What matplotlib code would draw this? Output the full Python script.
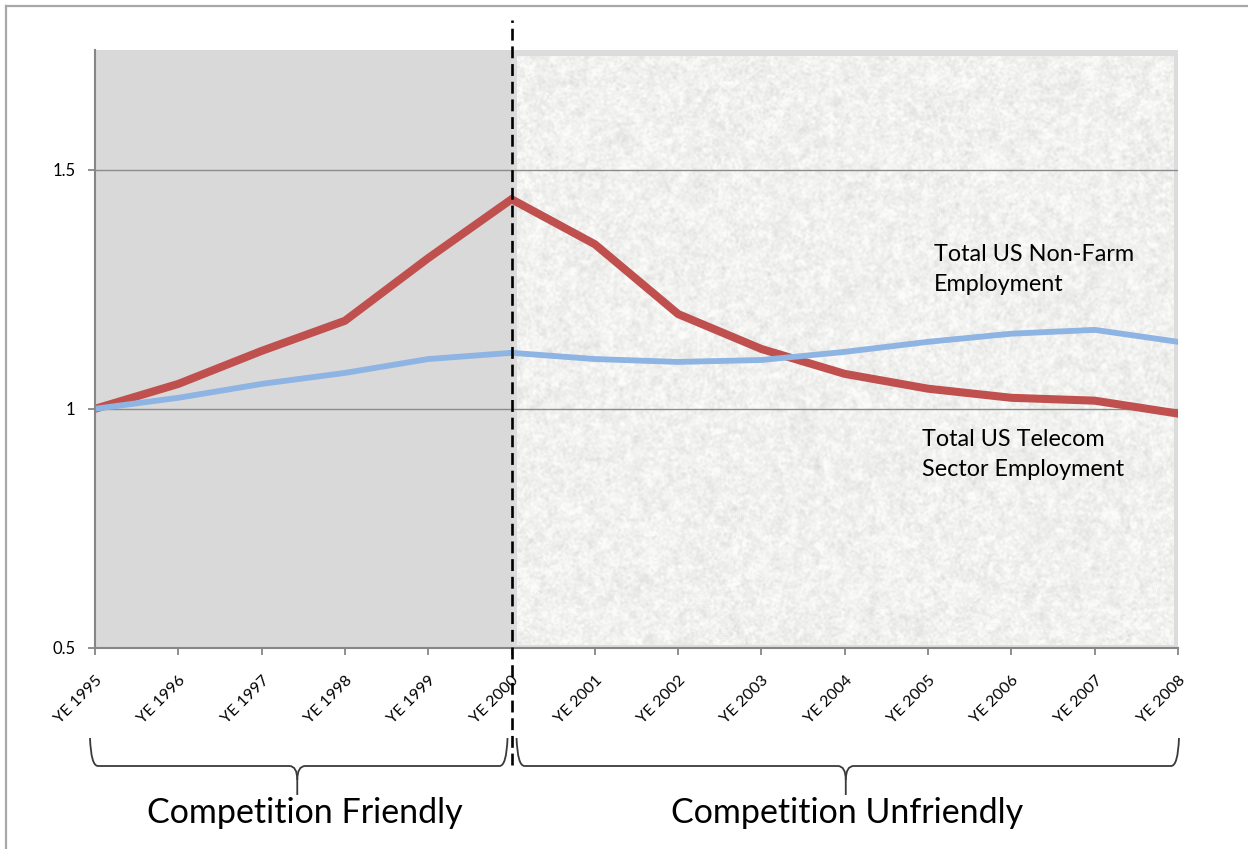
import numpy as np
import matplotlib
matplotlib.use("Agg")
import matplotlib.pyplot as plt
from matplotlib.path import Path
from matplotlib.patches import PathPatch
from matplotlib.lines import Line2D

plt.rcParams['font.family'] = ['Lato', 'DejaVu Sans']

years = ["YE 1995", "YE 1996", "YE 1997", "YE 1998", "YE 1999", "YE 2000", "YE 2001",
         "YE 2002", "YE 2003", "YE 2004", "YE 2005", "YE 2006", "YE 2007", "YE 2008"]
telecom = [1.000, 1.052, 1.121, 1.184, 1.315, 1.438, 1.344, 1.198, 1.125, 1.073,
           1.042, 1.023, 1.017, 0.990]
nonfarm = [1.000, 1.023, 1.052, 1.075, 1.104, 1.117, 1.104, 1.098, 1.102, 1.119,
           1.140, 1.157, 1.165, 1.140]
y_ticks = [0.5, 1.0, 1.5]
y_tick_labels = ["0.5", "1", "1.5"]
split_index = 5  # YE 2000
period_labels = ["Competition Friendly", "Competition Unfriendly"]
series_labels = ["Total US Non-Farm\nEmployment", "Total US Telecom\nSector Employment"]

W, H = 1248, 849
fig = plt.figure(figsize=(W / 100, H / 100), dpi=100)
fig.patch.set_facecolor("white")

# outer frame (top and left edges)
fig.add_artist(Line2D([6 / W, 1], [1 - 6 / H, 1 - 6 / H], color="#a8a8a8", lw=1.6,
                      transform=fig.transFigure))
fig.add_artist(Line2D([6 / W, 6 / W], [0, 1 - 6 / H], color="#a8a8a8", lw=1.6,
                      transform=fig.transFigure))

left_px, right_px, top_px, bot_px = 95, 1178, 50, 648
ax = fig.add_axes([left_px / W, 1 - bot_px / H, (right_px - left_px) / W, (bot_px - top_px) / H])
x = np.arange(len(years))
ax.set_xlim(0, len(years) - 1)
ax.set_ylim(0.5, 1.75)
ax.set_facecolor("white")

# shaded backgrounds for the two periods
ax.axvspan(0, split_index, color="#d9d9d9", zorder=0, lw=0)
ax.axvspan(split_index, len(years) - 1, color="#dcdcdc", zorder=0, lw=0)

# fine mottled paper texture for the second period
rng = np.random.default_rng(7)
th, tw = 590, 660
noise = rng.normal(size=(th, tw))
k = np.ones(3) / 3
noise = np.apply_along_axis(lambda r: np.convolve(r, k, mode="same"), 1, noise)
noise = np.apply_along_axis(lambda c: np.convolve(c, k, mode="same"), 0, noise)
coarse = rng.normal(size=(th // 6 + 1, tw // 6 + 1))
coarse = np.kron(coarse, np.ones((6, 6)))[:th, :tw]
k2 = np.ones(7) / 7
coarse = np.apply_along_axis(lambda r: np.convolve(r, k2, mode="same"), 1, coarse)
coarse = np.apply_along_axis(lambda c: np.convolve(c, k2, mode="same"), 0, coarse)
tex = 241 + noise / noise.std() * 4.5 + coarse / coarse.std() * 3.0
tex = np.clip(tex, 214, 252) / 255.0
tex_rgb = np.dstack([tex, tex, tex * 0.994])
ax.imshow(tex_rgb, extent=(split_index + 0.06, len(years) - 1 - 0.06, 0.507, 1.738),
          aspect="auto", zorder=0.5, interpolation="bilinear")

# gridlines
for yv in y_ticks[1:]:
    ax.axhline(yv, color="#8c8c8c", lw=1.0, zorder=1)

# series
ax.plot(x, telecom, color="#c0504d", lw=5.8, solid_joinstyle="miter", zorder=3)
ax.plot(x, nonfarm, color="#8db4e2", lw=4.2, solid_joinstyle="miter", zorder=4)

# axes styling
for s in ["top", "right"]:
    ax.spines[s].set_visible(False)
for s in ["left", "bottom"]:
    ax.spines[s].set_color("#868686")
    ax.spines[s].set_linewidth(1.5)
    ax.spines[s].set_zorder(5)
ax.set_yticks(y_ticks)
ax.set_yticklabels(y_tick_labels, fontsize=12)
ax.set_xticks(x)
ax.set_xticklabels(years, fontsize=11.5, rotation=45, ha="right", rotation_mode="anchor")
ax.tick_params(axis="both", colors="#868686", length=5, width=1.3, direction="out")
ax.tick_params(axis="y", labelcolor="black", pad=9)
ax.tick_params(axis="x", labelcolor="black", pad=13)

# period divider
ax.plot([split_index, split_index], [-0.196, 1.05], transform=ax.get_xaxis_transform(),
        color="black", lw=1.9, dashes=(4.5, 2.2), clip_on=False, zorder=6)

# series annotations
ax.text(10.07, 1.345, series_labels[0], fontsize=16.8, va="top", ha="left",
        linespacing=1.55, zorder=7)
ax.text(9.93, 0.958, series_labels[1], fontsize=16.8, va="top", ha="left",
        linespacing=1.55, zorder=7)

# curly braces under the axis, in pixel space
fig.canvas.draw()


def to_px(xv):
    return ax.transData.transform((xv, 1.0))[0]


def brace(xa, xb, xc, y0=738, y1=766, y2=795):
    yd = lambda v: H - v
    c = 8
    left = Path([(xa, yd(y0)), (xa + 1, yd(y1)), (xa + c, yd(y1)), (xc - c, yd(y1)),
                 (xc, yd(y1)), (xc, yd(y1 + 14)), (xc, yd(y2))],
                [Path.MOVETO, Path.CURVE3, Path.CURVE3, Path.LINETO,
                 Path.CURVE3, Path.CURVE3, Path.LINETO])
    right = Path([(xb, yd(y0)), (xb - 1, yd(y1)), (xb - c, yd(y1)), (xc + c, yd(y1)),
                  (xc, yd(y1)), (xc, yd(y1 + 14))],
                 [Path.MOVETO, Path.CURVE3, Path.CURVE3, Path.LINETO,
                  Path.CURVE3, Path.CURVE3])
    for p in (left, right):
        fig.add_artist(PathPatch(p, fill=False, edgecolor="#3a3a3a", lw=1.3,
                                 transform=None))


x0 = to_px(0)
xs = to_px(split_index)
xe = to_px(len(years) - 1)
brace(x0 - 5, xs - 4, (x0 + xs) / 2 - 6)
brace(xs + 5, xe + 1, (xs + xe) / 2 + 1)

fig.text(((x0 + xs) / 2 + 2) / W, 1 - 813 / H, period_labels[0], fontsize=24.5,
         ha="center", va="center")
fig.text(((xs + xe) / 2 + 2) / W, 1 - 813 / H, period_labels[1], fontsize=24.5,
         ha="center", va="center")

fig.savefig("out.png", dpi=100)
